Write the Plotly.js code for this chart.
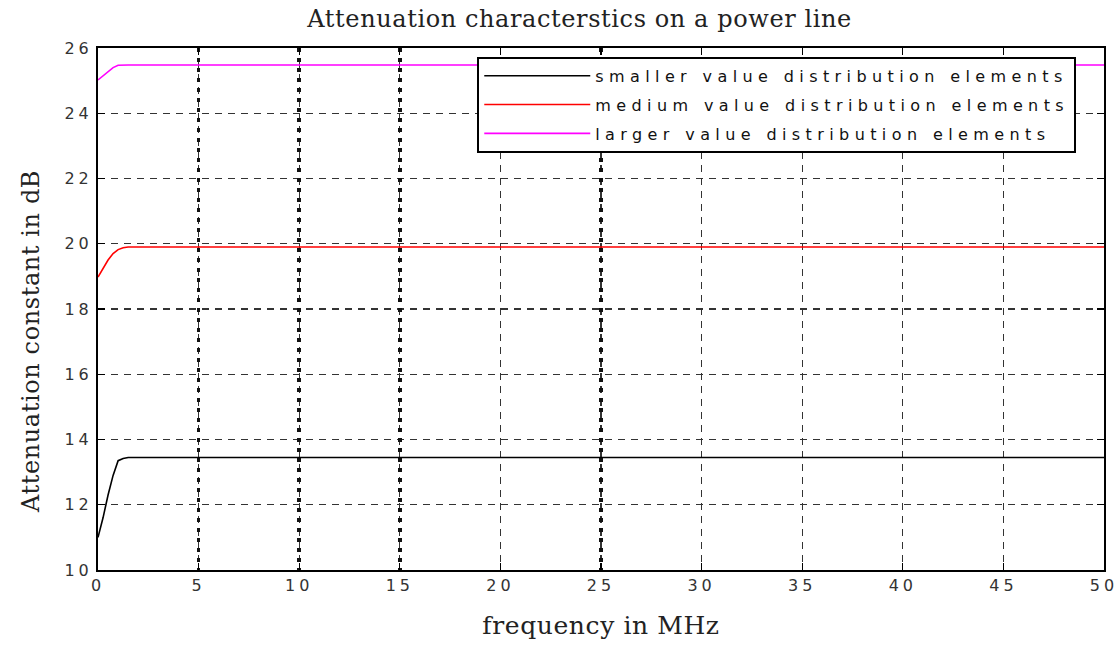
<!DOCTYPE html>
<html>
<head>
<meta charset="utf-8">
<script src="https://cdn.plot.ly/plotly-3.0.1.min.js"></script>
<style>
html,body{margin:0;padding:0;background:#fff;}
#chart{width:1119px;height:648px;}
.legendtext{letter-spacing:5.4px;}
.xtick text,.ytick text{letter-spacing:4px;}
.gtitle,.xtitle,.ytitle{letter-spacing:0.6px;}
</style>
</head>
<body>
<div id="chart"></div>
<script>
// frequency in MHz
const freq = [0, 0.25, 0.5, 0.75, 1.0, 1.25, 1.5, 50];
// attenuation constant in dB
const smallerVals = [11.0, 11.6, 12.3, 12.9, 13.35, 13.42, 13.45, 13.45];
const mediumVals  = [18.98, 19.25, 19.5, 19.7, 19.82, 19.88, 19.9, 19.9];
const largerVals  = [25.02, 25.15, 25.28, 25.4, 25.47, 25.48, 25.48, 25.48];
const seriesNames = ["smaller value distribution elements", "medium value distribution elements", "larger value distribution elements"];
const seriesColors = ["#000000", "#ff0000", "#ff00ff"];
const xTicks = [0, 5, 10, 15, 20, 25, 30, 35, 40, 45, 50];
const yTicks = [10, 12, 14, 16, 18, 20, 22, 24, 26];
const boldGridX = [5, 10, 15, 25];

const seriesVals = [smallerVals, mediumVals, largerVals];
const traces = seriesVals.map((v, i) => ({
  x: freq, y: v, type: 'scatter', mode: 'lines', name: seriesNames[i],
  legendgroup: 'g' + i,
  line: {color: seriesColors[i], width: 1.6}
}));

const tickFont = {family: 'DejaVu Sans, sans-serif', size: 16, color: '#333'};
const serif = 'DejaVu Serif, Liberation Serif, serif';

const layout = {
  width: 1119, height: 648,
  margin: {l: 98, r: 15, t: 48, b: 78},
  paper_bgcolor: '#fff', plot_bgcolor: '#fff',
  title: {text: 'Attenuation characterstics on a power line', x: 0.518, xanchor: 'center', y: 0.972, yanchor: 'middle',
          font: {family: serif, size: 24, color: '#222'}},
  showlegend: true,
  legend: {x: 0.377, xanchor: 'left', y: 0.983, yanchor: 'top',
           bgcolor: '#fff', bordercolor: '#000', borderwidth: 2,
           font: {family: 'DejaVu Sans, sans-serif', size: 16, color: '#111'},
           traceorder: 'grouped', tracegroupgap: 5, itemwidth: 106},
  xaxis: {
    range: [0, 50], tickvals: xTicks, ticktext: xTicks.map(String),
    showgrid: true, gridcolor: '#333', griddash: '7px,6px', gridwidth: 1.3,
    zeroline: false, showline: true, linecolor: '#000', linewidth: 2, mirror: 'ticks',
    ticks: 'inside', ticklen: 7, tickcolor: '#000', tickwidth: 1.2,
    tickfont: tickFont,
    title: {text: 'frequency in MHz', font: {family: serif, size: 25, color: '#222'}, standoff: 22}
  },
  xaxis2: {
    range: [0, 50], overlaying: 'x', tickvals: boldGridX, showticklabels: false,
    showgrid: true, gridcolor: '#111', griddash: '4px,6px', gridwidth: 3.5,
    zeroline: false, showline: false, ticks: ''
  },
  yaxis: {
    range: [10, 26], tickvals: yTicks, ticktext: yTicks.map(String),
    showgrid: true, gridcolor: '#333', griddash: '7px,6px', gridwidth: 1.3,
    zeroline: false, showline: true, linecolor: '#000', linewidth: 2, mirror: 'ticks',
    ticks: 'inside', ticklen: 7, tickcolor: '#000', tickwidth: 1.2,
    tickfont: tickFont,
    title: {text: 'Attenuation constant in dB', font: {family: serif, size: 24, color: '#222'}, standoff: 18}
  }
};

// invisible trace to activate xaxis2 grid
traces.unshift({x: [0], y: [10], xaxis: 'x2', yaxis: 'y', mode: 'markers', marker: {opacity: 0}, showlegend: false, hoverinfo: 'skip'});
Plotly.newPlot('chart', traces, layout, {displayModeBar: false, staticPlot: true}).then(() => {
  const yt = document.querySelector('.ytitle');
  if (yt) {
    const t = yt.getAttribute('transform') || '';
    yt.setAttribute('transform', 'translate(0,32) ' + t);
  }
});
</script>
</body>
</html>
